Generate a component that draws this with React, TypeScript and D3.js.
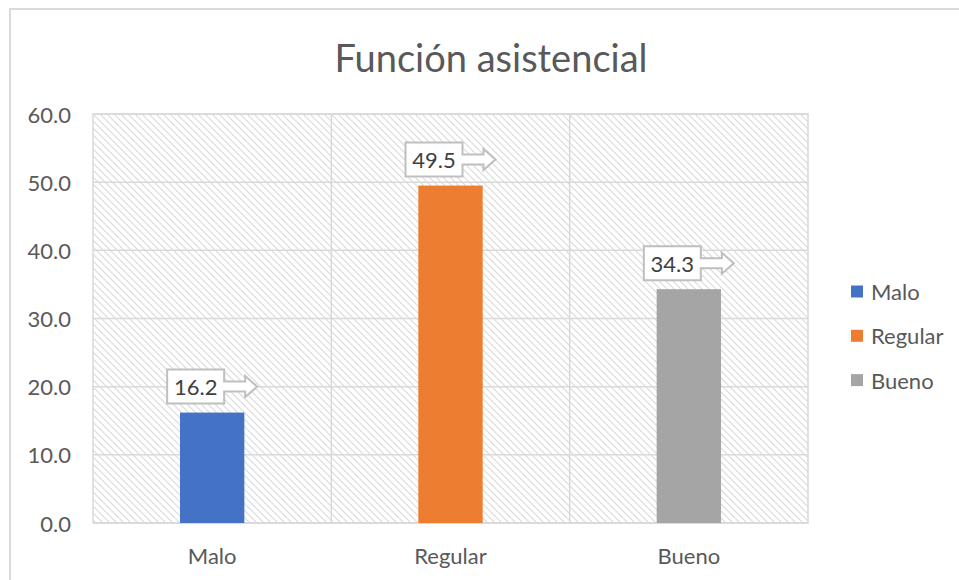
import React from "react";
import * as d3 from "d3";

const categories = ["Malo", "Regular", "Bueno"];
const values = [16.2, 49.5, 34.3];
const colors = ["#4472C4", "#ED7D31", "#A5A5A5"];
const yTicks = [0, 10, 20, 30, 40, 50, 60];
const title = "Función asistencial";

const W = 959;
const H = 580;
const FONT = "Lato, 'Open Sans', 'Noto Sans', sans-serif";

export default function App() {
  const left = 93, right = 808, top = 114, bottom = 523;
  const x = d3.scaleBand<string>().domain(categories).range([left, right]).paddingInner(0).paddingOuter(0);
  const y = d3.scaleLinear().domain([0, 60]).range([bottom, top]);
  const barW = x.bandwidth() * 0.27;

  // callout box with a right-pointing arrow, centred on the bar
  const callout = (cx: number, by: number) => {
    const bw = 57, bh = 34;
    const bl = cx - 45, br = bl + bw, tip = cx + 45;
    const t = by - bh, cy = by - bh / 2;
    const hs = tip - 12;
    const p = d3.path();
    p.moveTo(bl, t);
    p.lineTo(br, t);
    p.lineTo(br, cy - 5);
    p.lineTo(hs, cy - 5);
    p.lineTo(hs, cy - 10.5);
    p.lineTo(tip, cy);
    p.lineTo(hs, cy + 10.5);
    p.lineTo(hs, cy + 5);
    p.lineTo(br, cy + 5);
    p.lineTo(br, by);
    p.lineTo(bl, by);
    p.closePath();
    return { d: p.toString(), tx: bl + bw / 2, ty: cy };
  };

  return (
    <div style={{ position: "fixed", left: 0, top: 0 }}>
      <svg width={W} height={H} style={{ display: "block", background: "#fff" }}>
        <defs>
          <pattern id="hatch" width="7" height="7" patternUnits="userSpaceOnUse">
            <rect width="7" height="7" fill="#fff" />
            <path d="M-1,-1 L8,8 M-1,6 L1,8 M6,-1 L8,1" stroke="#dadada" strokeWidth="1.1" />
          </pattern>
        </defs>
        {/* chart frame */}
        <rect x={10} y={9} width={1000} height={700} fill="#fff" stroke="#d9d9d9" strokeWidth={2} />

        <text x={491} y={57} textAnchor="middle" dominantBaseline="central" fontFamily={FONT} fontSize={38} fill="#595959">
          {title}
        </text>

        {/* plot area */}
        <rect x={left} y={top} width={right - left} height={bottom - top} fill="url(#hatch)" />
        {yTicks.map((t) => (
          <line key={t} x1={left} x2={right} y1={y(t)} y2={y(t)} stroke="#d9d9d9" strokeWidth={1.5} />
        ))}
        {categories.slice(1).map((c) => (
          <line key={c} x1={x(c)!} x2={x(c)!} y1={top} y2={bottom} stroke="#d9d9d9" strokeWidth={1.5} />
        ))}
        <rect x={left} y={top} width={right - left} height={bottom - top} fill="none" stroke="#d9d9d9" strokeWidth={1.5} />

        {yTicks.map((t) => (
          <text key={t} x={71} y={y(t)} textAnchor="end" dominantBaseline="central" fontFamily={FONT} fontSize={22} fill="#595959">
            {d3.format(".1f")(t)}
          </text>
        ))}

        {categories.map((c, i) => {
          const cx = x(c)! + x.bandwidth() / 2;
          return (
            <g key={c}>
              <rect x={cx - barW / 2} y={y(values[i])} width={barW} height={bottom - y(values[i])} fill={colors[i]} />
              <text x={cx} y={555} textAnchor="middle" dominantBaseline="central" fontFamily={FONT} fontSize={22} fill="#595959">
                {c}
              </text>
            </g>
          );
        })}

        {categories.map((c, i) => {
          const cx = x(c)! + x.bandwidth() / 2;
          const co = callout(cx, y(values[i]) - 9);
          return (
            <g key={c + "-lbl"}>
              <path d={co.d} fill="#fff" stroke="#bfbfbf" strokeWidth={2} strokeLinejoin="miter" />
              <text x={co.tx} y={co.ty} textAnchor="middle" dominantBaseline="central" fontFamily={FONT} fontSize={22} fill="#404040">
                {d3.format(".1f")(values[i])}
              </text>
            </g>
          );
        })}

        {/* legend */}
        {categories.map((c, i) => {
          const ly = 291.5 + i * 44.3;
          return (
            <g key={c + "-leg"}>
              <rect x={851} y={ly - 6} width={12} height={12} fill={colors[i]} />
              <text x={871} y={ly} dominantBaseline="central" fontFamily={FONT} fontSize={22} fill="#595959">
                {c}
              </text>
            </g>
          );
        })}
      </svg>
    </div>
  );
}
